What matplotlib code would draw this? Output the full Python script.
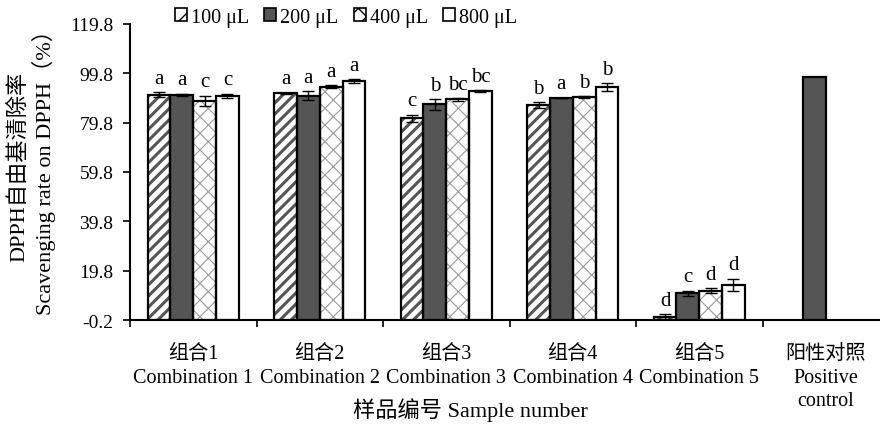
import matplotlib
matplotlib.use("Agg")
import matplotlib.pyplot as plt
import numpy as np

plt.rcParams['font.family'] = ['Liberation Serif', 'Noto Sans CJK SC', 'DejaVu Sans']

categories = ["组合1\nCombination 1", "组合2\nCombination 2", "组合3\nCombination 3",
              "组合4\nCombination 4", "组合5\nCombination 5", "阳性对照\nPositive\ncontrol"]
series_names = ["100 μL", "200 μL", "400 μL", "800 μL"]
v100 = [91.1, 91.7, 81.6, 86.8, 1.1, np.nan]
v200 = [91.0, 90.7, 87.2, 89.8, 10.7, 98.2]
v400 = [88.7, 94.4, 89.2, 90.2, 11.7, np.nan]
v800 = [90.6, 96.6, 92.6, 94.2, 14.0, np.nan]
e100 = [1.0, 0.3, 1.5, 1.2, 1.0, np.nan]
e200 = [0.5, 1.8, 2.2, 0.2, 1.0, np.nan]
e400 = [2.0, 0.5, 0.5, 0.3, 1.0, np.nan]
e800 = [1.0, 0.8, 0.4, 1.5, 2.5, np.nan]
l100 = ["a", "a", "c", "b", "d", ""]
l200 = ["a", "a", "b", "a", "c", ""]
l400 = ["c", "a", "bc", "b", "d", ""]
l800 = ["c", "a", "bc", "b", "d", ""]
yticks = [-0.2, 19.8, 39.8, 59.8, 79.8, 99.8, 119.8]

values = [v100, v200, v400, v800]
errors = [e100, e200, e400, e800]
letters = [l100, l200, l400, l800]

fig = plt.figure(figsize=(8.8, 4.31), dpi=100)
ax = fig.add_axes([130/880, 1-321/431, (889-130)/880, (321-25)/431])

x = np.arange(len(categories))
w = 0.18
offsets = [-1.5, -0.5, 0.5, 1.5]
styles = [
    dict(face="white", hatch="///", hcol="#555555", hlw=2.2),
    dict(face="#555555", hatch=None, hcol=None, hlw=1.0),
    dict(face="white", hatch="xx", hcol="#9a9a9a", hlw=0.8),
    dict(face="white", hatch=None, hcol=None, hlw=1.0),
]
handles = []
for i in range(4):
    st = styles[i]
    xs = x + offsets[i] * w
    vals = np.array(values[i], dtype=float)
    if st["hatch"]:
        with plt.rc_context({'hatch.linewidth': st["hlw"]}):
            ax.bar(xs, vals, w, facecolor=st["face"], edgecolor=st["hcol"],
                   hatch=st["hatch"], linewidth=0, zorder=2)
    else:
        ax.bar(xs, vals, w, facecolor=st["face"], linewidth=0, zorder=2)
    ax.bar(xs, vals, w, fill=False, edgecolor="black", linewidth=1.6, zorder=3)
    ax.errorbar(xs, vals, yerr=np.array(errors[i], dtype=float), fmt="none",
                ecolor="black", elinewidth=1, capsize=4, capthick=1, zorder=4)
    for xi, v, e, lab in zip(xs, vals, errors[i], letters[i]):
        if lab:
            ax.text(xi, v + e + 1.8, lab, ha="center", va="bottom", fontsize=15)
    with plt.rc_context({'hatch.linewidth': 1.2}):
        h = plt.Rectangle((0, 0), 1, 1, facecolor=st["face"],
                          edgecolor="black", hatch=st["hatch"] and st["hatch"][:2], linewidth=1.2)
    handles.append(h)

ax.set_ylim(-0.2, 119.8)
ax.set_yticks(yticks)
ax.set_yticklabels([f"{t:.1f}" for t in yticks])
ax.set_xlim(-0.5, 5.5)
ax.set_xticks(x)
ax.set_xticklabels(categories, fontsize=14.5, va="top", linespacing=1.35)
ax.set_xticks(np.arange(-0.5, 6.0, 1.0), minor=True)
ax.tick_params(axis="x", which="major", length=0, pad=17)
ax.tick_params(axis="x", which="minor", length=5, width=1.2, direction="out")
ax.tick_params(axis="y", labelsize=14, length=5, width=1.2, direction="out", pad=7)
for s in ["top", "right"]:
    ax.spines[s].set_visible(False)
ax.spines["left"].set_linewidth(1.5)
ax.spines["bottom"].set_linewidth(1.5)

ax.set_ylabel("DPPH自由基清除率\nScavenging rate on DPPH（%）", fontsize=16, linespacing=1.15)
ax.yaxis.set_label_coords(-0.097, 0.52)
fig.text(470/880, 1 - 410/431, "样品编号 Sample number", ha="center",
         va="center", fontsize=16)

leg = fig.legend(handles, series_names, loc="center", bbox_to_anchor=(346/880, 1-18/431),
                 ncol=4, frameon=False, fontsize=14.5, handlelength=0.6, handleheight=0.6,
                 handletextpad=0.2, columnspacing=0.75, borderpad=0.1)

fig.savefig("out.png", dpi=100)
